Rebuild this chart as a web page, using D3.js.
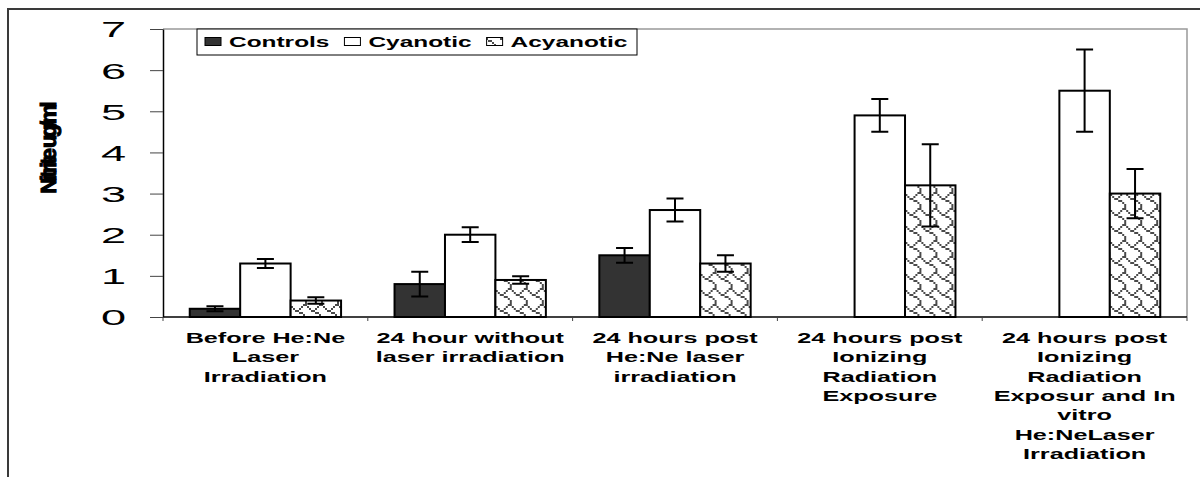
<!DOCTYPE html>
<html>
<head>
<meta charset="utf-8">
<script src="https://cdn.jsdelivr.net/npm/d3@7"></script>
<style>
  html, body { margin: 0; padding: 0; background: #fff; }
  svg { display: block; font-family: "Liberation Sans", Arial, Helvetica, sans-serif; }
</style>
</head>
<body>
<svg id="chart"></svg>
<script>
// data
var categories = [
  "Before He:Ne Laser Irradiation",
  "24 hour without laser irradiation",
  "24 hours post He:Ne laser irradiation",
  "24 hours post Ionizing Radiation Exposure",
  "24 hours post Ionizing Radiation Exposur and In vitro He:NeLaser Irradiation"
]
var categoryLines = [
  ["Before He:Ne", "Laser", "Irradiation"],
  ["24 hour without", "laser irradiation"],
  ["24 hours post", "He:Ne laser", "irradiation"],
  ["24 hours post", "Ionizing", "Radiation", "Exposure"],
  ["24 hours post", "Ionizing", "Radiation", "Exposur and In", "vitro", "He:NeLaser", "Irradiation"]
]
var series = ["Controls", "Cyanotic", "Acyanotic"]
var controls = [0.2, 0.8, 1.5, null, null]
var controlsErr = [0.06, 0.3, 0.18, null, null]
var cyanotic = [1.3, 2.0, 2.6, 4.9, 5.5]
var cyanoticErr = [0.11, 0.18, 0.28, 0.4, 1.0]
var acyanotic = [0.4, 0.9, 1.3, 3.2, 3.0]
var acyanoticErr = [0.08, 0.09, 0.2, 1.0, 0.6]
var yTicks = [0, 1, 2, 3, 4, 5, 6, 7]
var yLabel = "Nitrite ug/ml"

var values = [controls, cyanotic, acyanotic]
var errors = [controlsErr, cyanoticErr, acyanoticErr]

var width = 1200,
  height = 477

var plotLeft = 163,
  plotRight = 1187,
  plotTop = 29,
  plotBottom = 317

// text in the original is stretched sideways
var stretch = 1.68

var svg = d3.select("#chart")
  .attr("width", width)
  .attr("height", height)

/*
 * Pattern for Acyanotic (shingle hatch)
 */

var shingle = [0x03, 0x84, 0x48, 0x30, 0x0c, 0x02, 0x01, 0x01]
var cell = 2

var pat = svg.append("defs")
  .append("pattern")
  .attr("id", "shingle")
  .attr("patternUnits", "userSpaceOnUse")
  .attr("width", 8 * cell)
  .attr("height", 8 * cell)

pat.append("rect")
  .attr("width", 8 * cell)
  .attr("height", 8 * cell)
  .style("fill", "#fff")

var bits = []
shingle.forEach(function (row, r) {
  for (var c = 0; c < 8; c++) {
    if (row & (0x80 >> c)) bits.push({ r: r, c: c })
  }
})

pat.selectAll("rect.bit")
  .data(bits)
  .enter()
  .append("rect")
  .attr("class", "bit")
  .attr("x", function (d) { return d.c * cell })
  .attr("y", function (d) { return d.r * cell })
  .attr("width", cell)
  .attr("height", cell)
  .style("fill", "#4a4a4a")

var fills = {
  Controls: "#333333",
  Cyanotic: "#ffffff",
  Acyanotic: "url(#shingle)"
}

/*
 * Frame
 */

svg.append("path")
  .attr("d", "M8,477V9H1200")
  .style("fill", "none")
  .style("stroke", "#3a3a3a")
  .style("stroke-width", 2)

/*
 * Scales
 */

var x0 = d3.scaleBand()
  .domain(categories)
  .range([plotLeft, plotRight])
  .paddingInner(0)
  .paddingOuter(0)

var x1 = d3.scaleBand()
  .domain(series)
  .range([0, x0.bandwidth()])
  .paddingInner(0)
  .paddingOuter(0.53)

var y = d3.scaleLinear()
  .domain([0, 7])
  .range([plotBottom, plotTop])

// plot area border (top and right)
svg.append("path")
  .attr("d", "M" + plotLeft + "," + plotTop + "H" + plotRight + "V" + plotBottom)
  .style("fill", "none")
  .style("stroke", "#999")
  .style("stroke-width", 1.5)

/*
 * Y axis
 */

var yAxis = svg.append("g")
  .attr("transform", "translate(" + plotLeft + ",0)")
  .call(d3.axisLeft(y)
    .tickValues(yTicks)
    .tickFormat(d3.format("d"))
    .tickSize(13)
    .tickSizeOuter(0)
    .tickPadding(5))

yAxis.select(".domain")
  .style("stroke", "#000")
  .style("stroke-width", 1.5)

yAxis.selectAll(".tick line")
  .style("stroke", "#444")

yAxis.selectAll(".tick text")
  .attr("transform", "scale(2.05,1)")
  .attr("dy", "0.36em")
  .style("font-size", "22px")
  .style("fill", "#000")

svg.append("text")
  .attr("transform", "translate(56,149) rotate(-90)")
  .attr("text-anchor", "middle")
  .style("font-size", "22px")
  .style("font-weight", "bold")
  .style("letter-spacing", "-3px")
  .style("stroke", "#000")
  .style("stroke-width", 1.1)
  .text(yLabel)

/*
 * Bars
 */

var groups = svg.selectAll("g.group")
  .data(categories)
  .enter()
  .append("g")
  .attr("class", "group")
  .attr("transform", function (d) {
    return "translate(" + x0(d) + ",0)"
  })

var cells = groups.selectAll("g.cell")
  .data(function (d, i) {
    return series.map(function (s, j) {
      return { series: s, value: values[j][i], err: errors[j][i] }
    }).filter(function (e) {
      return e.value != null
    })
  })
  .enter()
  .append("g")
  .attr("class", "cell")

cells.append("rect")
  .attr("x", function (d) { return x1(d.series) })
  .attr("y", function (d) { return y(d.value) })
  .attr("width", x1.bandwidth())
  .attr("height", function (d) { return y(0) - y(d.value) })
  .style("fill", function (d) { return fills[d.series] })
  .style("stroke", "#000")
  .style("stroke-width", 2)

// error bars
var cap = 8.5
cells.append("path")
  .attr("d", function (d) {
    var cx = x1(d.series) + x1.bandwidth() / 2
    var hi = y(d.value + d.err),
      lo = y(d.value - d.err)
    return "M" + cx + "," + hi + "V" + lo +
      "M" + (cx - cap) + "," + hi + "H" + (cx + cap) +
      "M" + (cx - cap) + "," + lo + "H" + (cx + cap)
  })
  .style("fill", "none")
  .style("stroke", "#000")
  .style("stroke-width", 2)

/*
 * X axis
 */

svg.append("line")
  .attr("x1", plotLeft)
  .attr("x2", plotRight)
  .attr("y1", y(0))
  .attr("y2", y(0))
  .style("stroke", "#000")
  .style("stroke-width", 1.5)

var bounds = d3.range(categories.length + 1).map(function (i) {
  return plotLeft + i * x0.step()
})

svg.selectAll("line.xtick")
  .data(bounds)
  .enter()
  .append("line")
  .attr("class", "xtick")
  .attr("x1", function (d) { return d })
  .attr("x2", function (d) { return d })
  .attr("y1", y(0))
  .attr("y2", y(0) + 4)
  .style("stroke", "#444")

var labels = svg.selectAll("g.xlabel")
  .data(categories)
  .enter()
  .append("g")
  .attr("class", "xlabel")

labels.selectAll("text")
  .data(function (d, i) { return categoryLines[i].map(function (t) { return { t: t, cat: d } }) })
  .enter()
  .append("text")
  .attr("transform", function (d, k) {
    return "translate(" + (x0(d.cat) + x0.bandwidth() / 2) + "," + (343 + k * 19.3) + ") scale(" + stretch + ",1)"
  })
  .attr("text-anchor", "middle")
  .style("font-size", "15px")
  .style("font-weight", "bold")
  .text(function (d) { return d.t })

/*
 * Legend
 */

var legend = svg.append("g")
  .attr("class", "legend")

legend.append("rect")
  .attr("x", 197)
  .attr("y", 29)
  .attr("width", 440)
  .attr("height", 26)
  .style("fill", "#fff")
  .style("stroke", "#000")
  .style("stroke-width", 1)

var lx = 205
series.forEach(function (s) {
  legend.append("rect")
    .attr("x", lx)
    .attr("y", 37.5)
    .attr("width", 16)
    .attr("height", 8)
    .style("fill", fills[s])
    .style("stroke", "#000")
    .style("stroke-width", 1)

  var t = legend.append("text")
    .attr("transform", "translate(" + (lx + 24) + ",46.5) scale(1.63,1)")
    .style("font-size", "15px")
    .style("font-weight", "bold")
    .text(s)

  lx += 24 + t.node().getComputedTextLength() * 1.63 + 15
})
</script>
</body>
</html>
